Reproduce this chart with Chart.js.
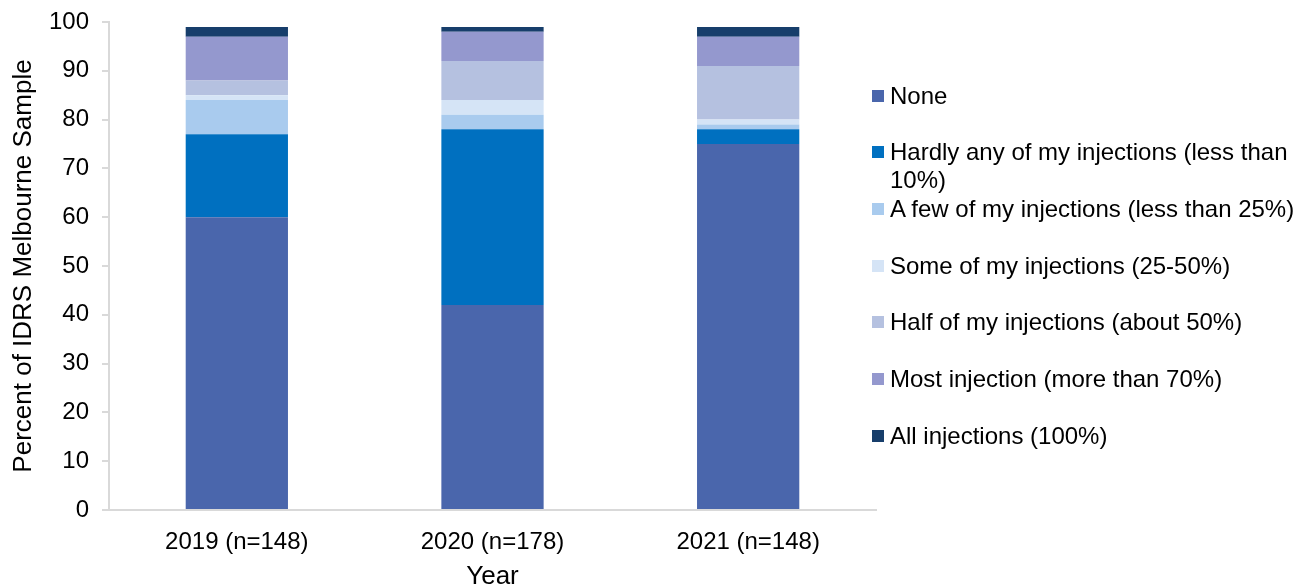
<!DOCTYPE html>
<html><head><meta charset="utf-8">
<script src="https://cdn.jsdelivr.net/npm/chart.js@4/dist/chart.umd.min.js"></script>
<style>
html,body{margin:0;padding:0;background:#fff;width:1312px;height:585px;overflow:hidden;font-family:"Liberation Sans",Arial,sans-serif;}
#wrap{position:absolute;left:0;top:0;width:1312px;height:585px;}
#legend{position:absolute;left:872px;top:0;width:440px;}
.item{position:absolute;left:0;font-size:24px;color:#000;line-height:28px;}
.box{position:absolute;left:0;width:12px;height:12px;}
.txt{position:absolute;left:18px;white-space:nowrap;}
</style></head>
<body>
<div id="wrap"><canvas id="c" width="1312" height="585"></canvas></div>
<div id="legend"></div>
<script>
const categories = ["2019 (n=148)", "2020 (n=178)", "2021 (n=148)"];
const seriesNames = [
  "None",
  "Hardly any of my injections (less than 10%)",
  "A few of my injections (less than 25%)",
  "Some of my injections (25-50%)",
  "Half of my injections (about 50%)",
  "Most injection (more than 70%)",
  "All injections (100%)"
];
const none     = [60, 42, 75];
const hardly   = [17, 36, 3];
const aFew     = [7, 3, 1];
const some     = [1, 3, 1];
const half     = [3, 8, 11];
const most     = [9, 6, 6];
const allInj   = [2, 1, 2];
const yTicks = [0,10,20,30,40,50,60,70,80,90,100];
const colors = ["#4A66AC","#0070C0","#A9CBEE","#D5E4F6","#B5C1E0","#9498CE","#173E6B"];
const seriesValues = [none, hardly, aFew, some, half, most, allInj];

const datasets = seriesValues.map((v,i)=>({
  label: seriesNames[i], data: v, backgroundColor: colors[i],
  borderWidth: 0, barPercentage: 0.4, categoryPercentage: 1.0
}));

const font = {family:"'Liberation Sans', Arial, sans-serif", size:24};
const titleFont = {family:"'Liberation Sans', Arial, sans-serif", size:26};
new Chart(document.getElementById('c'), {
  type:'bar',
  data:{labels:categories, datasets},
  options:{
    responsive:false, animation:false,
    layout:{padding:{top:22,right:436,left:0,bottom:0}},
    plugins:{legend:{display:false}, tooltip:{enabled:false}},
    scales:{
      x:{stacked:true,
         grid:{display:true,drawOnChartArea:false,drawTicks:false},
         border:{display:true,color:'#d9d9d9',width:2},
         ticks:{color:'#000',font,padding:18,maxRotation:0},
         title:{display:true,text:'Year',color:'#000',font:titleFont,padding:{top:0,bottom:-7}},
         afterFit:s=>{s.height=75; s.paddingLeft=0; s.paddingRight=0;}
      },
      y:{stacked:true,min:0,max:100,
         afterBuildTicks:s=>{s.ticks=yTicks.map(v=>({value:v}));},
         grid:{display:true,drawOnChartArea:false,drawTicks:true,tickLength:7,color:'#d9d9d9',lineWidth:2},
         border:{display:true,color:'#d9d9d9',width:2},
         ticks:{color:'#000',font,padding:13},
         title:{display:true,text:'Percent of IDRS Melbourne Sample',color:'#000',font:titleFont,padding:{top:8,bottom:0}},
         afterFit:s=>{s.width=109; s.paddingTop=0; s.paddingBottom=0;}
      }
    }
  }
});

const legendTops = [96,152,209,266,322,379,436];
const lg = document.getElementById('legend');
seriesNames.forEach((n,i)=>{
  const d=document.createElement('div'); d.className='item'; d.style.top=(legendTops[i]-14)+'px';
  const b=document.createElement('div'); b.className='box'; b.style.background=colors[i]; b.style.top='8px';
  const t=document.createElement('div'); t.className='txt';
  if(i===1){ t.innerHTML='Hardly any of my injections (less than<br>10%)'; } else { t.textContent=n; }
  d.appendChild(b); d.appendChild(t); lg.appendChild(d);
});
</script>
</body></html>
